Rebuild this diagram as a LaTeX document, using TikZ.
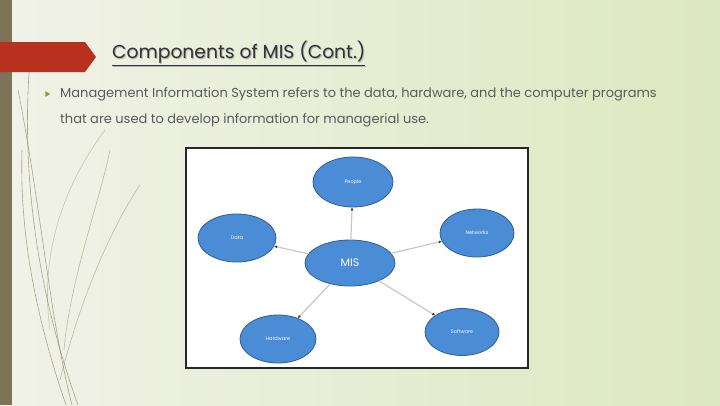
\documentclass[tikz,border=0pt]{standalone}
\usepackage{fontspec}
\setmainfont{Poppins}
\usetikzlibrary{arrows.meta,shapes.geometric}
\definecolor{bgL}{HTML}{F1F2E8}
\definecolor{bgR}{HTML}{DCE8C0}
\definecolor{barc}{HTML}{7B7458}
\definecolor{banner}{HTML}{B8311E}
\definecolor{titlec}{HTML}{333333}
\definecolor{bodyc}{HTML}{5A5A5A}
\definecolor{ellfill}{HTML}{4A8CD6}
\definecolor{elldraw}{HTML}{2F5E96}
\definecolor{linkc}{HTML}{C8C8C8}
\definecolor{curvec}{HTML}{8A8466}
\definecolor{bulc}{HTML}{9A9A3A}
\tikzset{
  comp/.style={ellipse, fill=ellfill, draw=elldraw, line width=0.8pt, text=white, font=\fontsize{5}{6}\selectfont, inner sep=0pt},
  link/.style={draw=linkc, line width=1.2pt, -{Latex[length=3pt,width=3pt,color=black!80]}},
  deco/.style={draw=curvec, line width=0.6pt, opacity=0.7}
}
\begin{document}
\begin{tikzpicture}[x=1pt,y=-1pt]
\useasboundingbox (0,0) rectangle (720,405);
% background
\shade[left color=bgL, right color=bgR] (0,0) rectangle (720,405);
% decorative curves
\draw[deco] (78,405) .. controls (40,300) and (20,180) .. (30,60);
\draw[deco] (72,405) .. controls (50,320) and (40,200) .. (18,90);
\draw[deco] (66,405) .. controls (30,300) and (20,220) .. (22,150);
\draw[deco, opacity=0.5] (60,380) .. controls (80,300) and (110,230) .. (140,185);
\draw[deco, opacity=0.5] (64,350) .. controls (70,280) and (100,200) .. (110,150);
\draw[deco, opacity=0.4] (50,330) .. controls (40,260) and (60,190) .. (105,130);
% left bar
\fill[barc] (0,0) rectangle (12,405);
% banner
\fill[banner] (0,42) -- (85,42) -- (96,57) -- (85,72) -- (0,72) -- cycle;
% title
\node[anchor=west, text=gray!60, font=\fontsize{18.7}{20}\selectfont, inner sep=0pt] (tshadow) at (113,54.5) {\underline{Components of MIS (Cont.)}};
\node[anchor=west, text=titlec, font=\fontsize{18.7}{20}\selectfont, inner sep=0pt] (title) at (112,53.5) {\underline{Components of MIS (Cont.)}};
% bullet
\node[isosceles triangle, fill=bulc, inner sep=0pt, minimum width=5pt, minimum height=5pt, isosceles triangle apex angle=60] (bul) at (47,94) {};
\node[anchor=west, text=bodyc, font=\fontsize{13}{15}\selectfont, inner sep=0pt] (l1) at (60,94) {Management Information System refers to the data, hardware, and the computer programs};
\node[anchor=west, text=bodyc, font=\fontsize{13}{15}\selectfont, inner sep=0pt] (l2) at (60,120) {that are used to develop information for managerial use.};
% diagram box
\draw[fill=white, draw=black!85, line width=1.8pt] (186,148) rectangle (528,368);
% nodes
\node[comp, minimum width=80pt, minimum height=50pt] (people) at (353,182) {People};
\node[comp, minimum width=78pt, minimum height=48pt] (data) at (237,238) {Data};
\node[comp, minimum width=74pt, minimum height=48pt] (net) at (477,233) {Networks};
\node[comp, minimum width=90pt, minimum height=46pt, font=\fontsize{11}{12}\selectfont] (mis) at (350,263) {MIS};
\node[comp, minimum width=76pt, minimum height=48pt] (hard) at (278,339) {Hardware};
\node[comp, minimum width=74pt, minimum height=47pt] (soft) at (462,332) {Software};
% links
\draw[link] (mis) -- (people);
\draw[link] (mis) -- (data);
\draw[link] (mis) -- (net);
\draw[link] (mis) -- (hard);
\draw[link] (mis) -- (soft);
\end{tikzpicture}
\end{document}
